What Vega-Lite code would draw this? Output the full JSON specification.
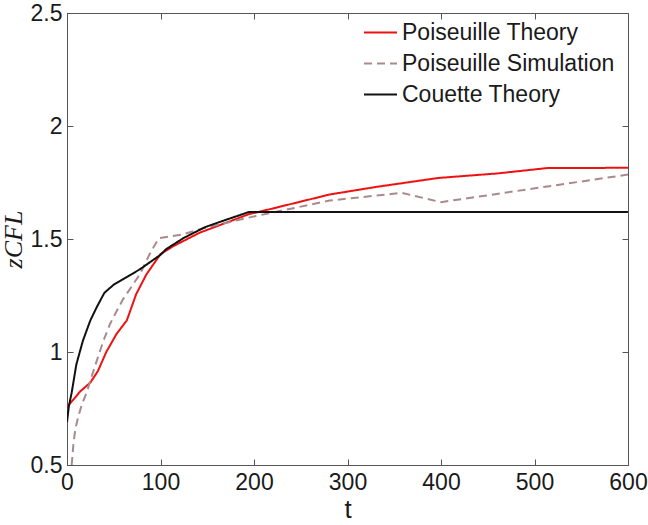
{
  "$schema": "https://vega.github.io/schema/vega-lite/v6.json",
  "width": 561,
  "height": 452,
  "autosize": {"type": "none"},
  "padding": {"left": 67, "top": 13, "right": 20, "bottom": 60},
  "background": "white",
  "config": {
    "view": {"stroke": "#555", "strokeWidth": 1},
    "font": "Liberation Sans",
    "axis": {
      "grid": false,
      "domainColor": "#555",
      "tickColor": "#555",
      "tickSize": -6,
      "labelFont": "Liberation Sans",
      "labelFontSize": 23,
      "labelColor": "#1a1a1a",
      "titleFont": "Liberation Sans",
      "titleColor": "#1a1a1a",
      "titleFontWeight": "normal"
    },
    "legend": {
      "labelFont": "Liberation Sans",
      "labelFontSize": 23,
      "labelColor": "#1a1a1a",
      "labelLimit": 0
    }
  },
  "data": {
    "values": [
      {"series": "Poiseuille Theory", "t": 0, "z": 0.757},
      {"series": "Poiseuille Theory", "t": 7, "z": 0.79},
      {"series": "Poiseuille Theory", "t": 14, "z": 0.825},
      {"series": "Poiseuille Theory", "t": 25, "z": 0.865},
      {"series": "Poiseuille Theory", "t": 33, "z": 0.915},
      {"series": "Poiseuille Theory", "t": 42, "z": 1.0},
      {"series": "Poiseuille Theory", "t": 53, "z": 1.08},
      {"series": "Poiseuille Theory", "t": 64, "z": 1.14},
      {"series": "Poiseuille Theory", "t": 74, "z": 1.256},
      {"series": "Poiseuille Theory", "t": 85, "z": 1.344},
      {"series": "Poiseuille Theory", "t": 100, "z": 1.433},
      {"series": "Poiseuille Theory", "t": 114, "z": 1.469},
      {"series": "Poiseuille Theory", "t": 142, "z": 1.528},
      {"series": "Poiseuille Theory", "t": 194, "z": 1.609},
      {"series": "Poiseuille Theory", "t": 220, "z": 1.635},
      {"series": "Poiseuille Theory", "t": 281, "z": 1.697},
      {"series": "Poiseuille Theory", "t": 330, "z": 1.73},
      {"series": "Poiseuille Theory", "t": 397, "z": 1.77},
      {"series": "Poiseuille Theory", "t": 460, "z": 1.79},
      {"series": "Poiseuille Theory", "t": 514, "z": 1.814},
      {"series": "Poiseuille Theory", "t": 600, "z": 1.815},
      {"series": "Poiseuille Simulation", "t": 5, "z": 0.5},
      {"series": "Poiseuille Simulation", "t": 7, "z": 0.6},
      {"series": "Poiseuille Simulation", "t": 9, "z": 0.66},
      {"series": "Poiseuille Simulation", "t": 12, "z": 0.713},
      {"series": "Poiseuille Simulation", "t": 16, "z": 0.77},
      {"series": "Poiseuille Simulation", "t": 21, "z": 0.82},
      {"series": "Poiseuille Simulation", "t": 27, "z": 0.9},
      {"series": "Poiseuille Simulation", "t": 32, "z": 0.963},
      {"series": "Poiseuille Simulation", "t": 39, "z": 1.05},
      {"series": "Poiseuille Simulation", "t": 46, "z": 1.124},
      {"series": "Poiseuille Simulation", "t": 53, "z": 1.18},
      {"series": "Poiseuille Simulation", "t": 60, "z": 1.234},
      {"series": "Poiseuille Simulation", "t": 78, "z": 1.344},
      {"series": "Poiseuille Simulation", "t": 88, "z": 1.43},
      {"series": "Poiseuille Simulation", "t": 98, "z": 1.503},
      {"series": "Poiseuille Simulation", "t": 123, "z": 1.52},
      {"series": "Poiseuille Simulation", "t": 148, "z": 1.55},
      {"series": "Poiseuille Simulation", "t": 200, "z": 1.6},
      {"series": "Poiseuille Simulation", "t": 281, "z": 1.67},
      {"series": "Poiseuille Simulation", "t": 358, "z": 1.704},
      {"series": "Poiseuille Simulation", "t": 400, "z": 1.663},
      {"series": "Poiseuille Simulation", "t": 600, "z": 1.785},
      {"series": "Couette Theory", "t": 0, "z": 0.69},
      {"series": "Couette Theory", "t": 2, "z": 0.76},
      {"series": "Couette Theory", "t": 5, "z": 0.82},
      {"series": "Couette Theory", "t": 10, "z": 0.945},
      {"series": "Couette Theory", "t": 17, "z": 1.05},
      {"series": "Couette Theory", "t": 25, "z": 1.14},
      {"series": "Couette Theory", "t": 32, "z": 1.2},
      {"series": "Couette Theory", "t": 40, "z": 1.262},
      {"series": "Couette Theory", "t": 50, "z": 1.298},
      {"series": "Couette Theory", "t": 57, "z": 1.315},
      {"series": "Couette Theory", "t": 78, "z": 1.366},
      {"series": "Couette Theory", "t": 100, "z": 1.43},
      {"series": "Couette Theory", "t": 106, "z": 1.455},
      {"series": "Couette Theory", "t": 125, "z": 1.505},
      {"series": "Couette Theory", "t": 148, "z": 1.553},
      {"series": "Couette Theory", "t": 170, "z": 1.585},
      {"series": "Couette Theory", "t": 195, "z": 1.62},
      {"series": "Couette Theory", "t": 600, "z": 1.62}
    ]
  },
  "resolve": {"axis": {"x": "independent", "y": "independent"}},
  "layer": [
    {
      "mark": {"type": "point", "opacity": 0},
      "encoding": {
        "x": {"field": "t", "type": "quantitative", "scale": {"domain": [0, 600], "nice": false},
              "axis": {"orient": "top", "labels": false, "title": null, "domain": false, "values": [0, 100, 200, 300, 400, 500, 600]}},
        "y": {"field": "z", "type": "quantitative", "scale": {"domain": [0.5, 2.5], "nice": false, "zero": false},
              "axis": {"orient": "right", "labels": false, "title": null, "domain": false, "values": [0.5, 1, 1.5, 2, 2.5]}}
      }
    },
    {
      "mark": {"type": "line", "strokeWidth": 2, "clip": true},
      "encoding": {
        "x": {"field": "t", "type": "quantitative",
              "axis": {"orient": "bottom", "title": "t", "titleFontSize": 26, "titlePadding": 2, "labelPadding": 12,
                       "values": [0, 100, 200, 300, 400, 500, 600], "labelFlush": false}},
        "y": {"field": "z", "type": "quantitative",
              "axis": {"orient": "left", "title": "zCFL", "titleFont": "Liberation Serif", "titleFontStyle": "italic",
                       "titleFontSize": 26, "titlePadding": 4, "labelPadding": 11, "format": ".1~f",
                       "values": [0.5, 1, 1.5, 2, 2.5]}},
        "color": {"field": "series", "type": "nominal",
                  "scale": {"domain": ["Poiseuille Theory", "Poiseuille Simulation", "Couette Theory"],
                            "range": ["#ee1111", "#a88a8c", "#111111"]},
                  "legend": {"title": null, "orient": "none", "legendX": 296, "legendY": 2,
                             "symbolType": "stroke", "symbolSize": 1089, "symbolStrokeWidth": 2,
                             "labelOffset": 4, "rowPadding": 1, "padding": 0, "labelLimit": 0}},
        "strokeDash": {"field": "series", "type": "nominal",
                       "scale": {"domain": ["Poiseuille Theory", "Poiseuille Simulation", "Couette Theory"],
                                 "range": [[1, 0], [8, 5], [1, 0]]},
                       "legend": {"title": null, "orient": "none", "legendX": 296, "legendY": 2,
                                  "symbolType": "stroke", "symbolSize": 1089, "symbolStrokeWidth": 2,
                                  "labelOffset": 4, "rowPadding": 1, "padding": 0, "labelLimit": 0}}
      }
    }
  ]
}
